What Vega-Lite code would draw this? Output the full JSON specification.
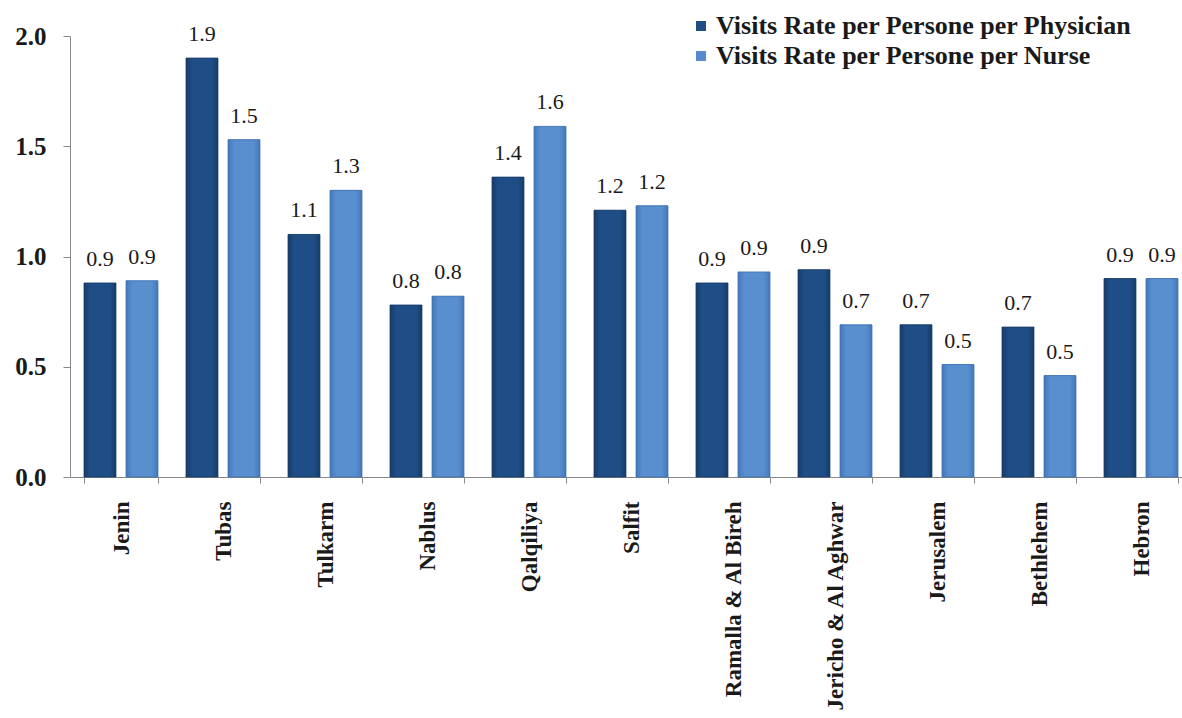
{
  "$schema": "https://vega.github.io/schema/vega-lite/v6.json",
  "width": 1122,
  "height": 441,
  "autosize": "none",
  "padding": {"left": 70, "top": 36, "right": 0, "bottom": 241},
  "background": "white",
  "config": {"view": {"stroke": null}, "font": "Liberation Serif"},
  "data": {"values": [
    {"region": "Jenin", "series": "Visits Rate per Persone per Physician", "value": 0.88},
    {"region": "Jenin", "series": "Visits Rate per Persone per Nurse", "value": 0.89},
    {"region": "Tubas", "series": "Visits Rate per Persone per Physician", "value": 1.9},
    {"region": "Tubas", "series": "Visits Rate per Persone per Nurse", "value": 1.53},
    {"region": "Tulkarm", "series": "Visits Rate per Persone per Physician", "value": 1.1},
    {"region": "Tulkarm", "series": "Visits Rate per Persone per Nurse", "value": 1.3},
    {"region": "Nablus", "series": "Visits Rate per Persone per Physician", "value": 0.78},
    {"region": "Nablus", "series": "Visits Rate per Persone per Nurse", "value": 0.82},
    {"region": "Qalqiliya", "series": "Visits Rate per Persone per Physician", "value": 1.36},
    {"region": "Qalqiliya", "series": "Visits Rate per Persone per Nurse", "value": 1.59},
    {"region": "Salfit", "series": "Visits Rate per Persone per Physician", "value": 1.21},
    {"region": "Salfit", "series": "Visits Rate per Persone per Nurse", "value": 1.23},
    {"region": "Ramalla & Al Bireh", "series": "Visits Rate per Persone per Physician", "value": 0.88},
    {"region": "Ramalla & Al Bireh", "series": "Visits Rate per Persone per Nurse", "value": 0.93},
    {"region": "Jericho & Al Aghwar", "series": "Visits Rate per Persone per Physician", "value": 0.94},
    {"region": "Jericho & Al Aghwar", "series": "Visits Rate per Persone per Nurse", "value": 0.69},
    {"region": "Jerusalem", "series": "Visits Rate per Persone per Physician", "value": 0.69},
    {"region": "Jerusalem", "series": "Visits Rate per Persone per Nurse", "value": 0.51},
    {"region": "Bethlehem", "series": "Visits Rate per Persone per Physician", "value": 0.68},
    {"region": "Bethlehem", "series": "Visits Rate per Persone per Nurse", "value": 0.46},
    {"region": "Hebron", "series": "Visits Rate per Persone per Physician", "value": 0.9},
    {"region": "Hebron", "series": "Visits Rate per Persone per Nurse", "value": 0.9}
  ]},
  "encoding": {
    "x": {
      "field": "region", "type": "nominal", "sort": null,
      "scale": {"paddingInner": 0.275, "paddingOuter": 0.1375},
      "axis": {
        "title": null, "labelAngle": -90, "labelFont": "Liberation Serif", "labelFontSize": 23,
        "labelFontWeight": "bold", "labelColor": "#1a1a1a", "domainColor": "#888888",
        "tickColor": "#888888", "tickSize": 6, "labelPadding": 18, "tickBand": "extent", "labelAlign": "right", "labelBaseline": "middle", "labelLimit": 400
      }
    },
    "xOffset": {"field": "series", "type": "nominal", "sort": ["Visits Rate per Persone per Physician", "Visits Rate per Persone per Nurse"], "scale": {"paddingInner": 0.24}},
    "y": {
      "field": "value", "type": "quantitative",
      "scale": {"domain": [0, 2], "nice": false},
      "axis": {
        "title": null, "values": [0, 0.5, 1, 1.5, 2], "format": ".1f", "grid": false,
        "labelFont": "Liberation Serif", "labelFontSize": 25, "labelFontWeight": "bold", "labelColor": "#1a1a1a",
        "domainColor": "#888888", "tickColor": "#888888", "tickSize": 7, "labelPadding": 17
      }
    }
  },
  "layer": [
    {
      "mark": {"type": "bar"},
      "encoding": {
        "color": {
          "field": "series", "type": "nominal",
          "sort": ["Visits Rate per Persone per Physician", "Visits Rate per Persone per Nurse"],
          "scale": {"range": ["#1f4e85", "#568bcd"]},
          "legend": {
            "title": null, "orient": "none", "legendX": 618, "legendY": -23,
            "symbolType": "square", "symbolSize": 100, "symbolStrokeWidth": 0,
            "labelFont": "Liberation Serif", "labelFontSize": 26, "labelFontWeight": "bold",
            "labelColor": "#1a1a1a", "rowPadding": 4, "labelOffset": 2, "labelLimit": 600
          }
        }
      }
    },
    {
      "transform": [{"filter": "datum.series === 'Visits Rate per Persone per Physician'"}],
      "mark": {"type": "bar", "stroke": "#163a66", "strokeWidth": 0.8, "color": {"gradient": "linear", "x1": 0, "x2": 1, "y1": 0, "y2": 0, "stops": [{"offset": 0, "color": "#163c69"}, {"offset": 0.2, "color": "#1f4e87"}, {"offset": 0.8, "color": "#1f4e87"}, {"offset": 1, "color": "#163c69"}]}}
    },
    {
      "transform": [{"filter": "datum.series === 'Visits Rate per Persone per Nurse'"}],
      "mark": {"type": "bar", "stroke": "#3e70ad", "strokeWidth": 0.8, "color": {"gradient": "linear", "x1": 0, "x2": 1, "y1": 0, "y2": 0, "stops": [{"offset": 0, "color": "#4378bb"}, {"offset": 0.2, "color": "#598ecf"}, {"offset": 0.8, "color": "#598ecf"}, {"offset": 1, "color": "#4378bb"}]}}
    },
    {
      "mark": {"type": "text", "baseline": "alphabetic", "dy": -17, "font": "Liberation Serif", "fontSize": 22, "color": "#1a1a1a"},
      "encoding": {"text": {"field": "value", "type": "quantitative", "format": ".1f"}}
    }
  ]
}
